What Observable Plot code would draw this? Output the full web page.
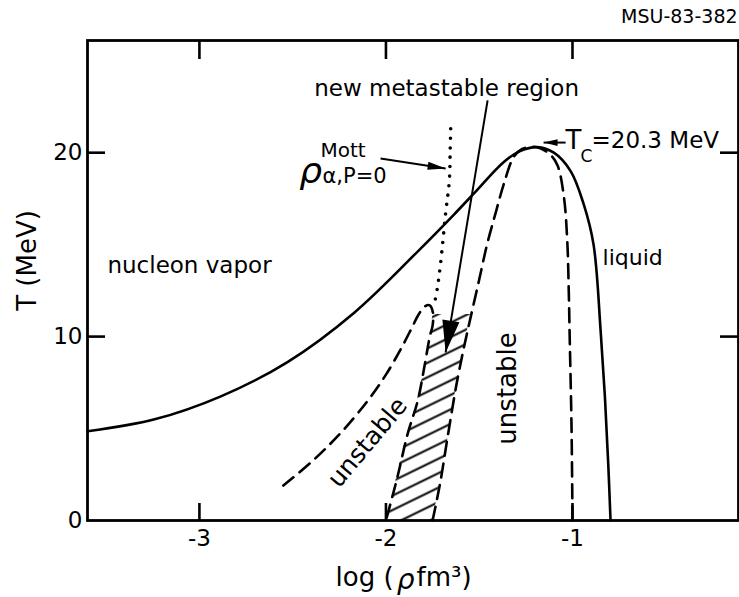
<!DOCTYPE html>
<html>
<head>
<meta charset="utf-8">
<script src="https://cdn.jsdelivr.net/npm/d3@7"></script>
<script src="https://cdn.jsdelivr.net/npm/@observablehq/plot@0.6"></script>
<style>
  body { margin: 0; background: #fff; }
  #chart svg text { font-family: "DejaVu Sans", sans-serif; }
</style>
</head>
<body>
<div id="chart"></div>
<script>
// Axis ticks
const xTicks = [-3, -2, -1];
const yTicks = [0, 10, 20];

// Liquid–gas coexistence curve (solid), log(rho fm^3) vs T (MeV)
const coexX = [-3.6, -3.24, -2.885, -2.53, -2.17, -1.813, -1.634, -1.527, -1.368, -1.278, -1.19, -1.10, -1.01, -0.94, -0.887, -0.849, -0.825, -0.808, -0.796];
const coexT = [4.85, 5.5, 6.75, 8.6, 11.3, 14.8, 16.65, 17.8, 19.5, 20.1, 20.3, 20.0, 19.0, 17.2, 15.0, 10.3, 6.5, 3.0, 0];

// Spinodal (dashed) enclosing the main unstable region
const spinX = [-1.75, -1.71, -1.67, -1.62, -1.58, -1.546, -1.50, -1.457, -1.41, -1.368, -1.316, -1.27, -1.19, -1.12, -1.08, -1.046, -1.028, -1.02, -1.015, -1.005, -1.0];
const spinT = [0, 2, 4.5, 7.5, 9.5, 11.05, 13.1, 15.05, 16.8, 18.3, 19.75, 20.2, 20.3, 19.9, 19.3, 17.6, 15.2, 12.5, 10, 5, 0];

// Low-density unstable loop (dashed)
const loopX = [-2.55, -2.40, -2.25, -2.10, -2.00, -1.92, -1.86, -1.825, -1.79, -1.765, -1.748, -1.75, -1.765, -1.795, -1.83, -1.884, -1.94, -2.0];
const loopT = [1.9, 3.18, 4.68, 6.48, 7.93, 9.33, 10.5, 11.2, 11.65, 11.7, 11.3, 10.6, 10.0, 8.3, 6.5, 4.7, 2.3, 0];

// Mott density of alpha particles at P = 0 (dotted)
const mottX = [-1.653, -1.656, -1.66, -1.68, -1.707, -1.725, -1.74];
const mottT = [21.3, 20.0, 18.5, 16.7, 14.0, 12.6, 11.8];

// New metastable region (hatched), bounded left and right at each T
const hatchT = [0, 2, 4, 6, 8, 10, 11.2];
const hatchLeft = [-2.0, -1.95, -1.905, -1.845, -1.80, -1.765, -1.748];
const hatchRight = [-1.75, -1.71, -1.675, -1.645, -1.608, -1.57, -1.543];

const pts = (xs, ts) => xs.map((x, i) => ({x, T: ts[i]}));
const coex = pts(coexX, coexT);
const spin = pts(spinX, spinT);
const loop = pts(loopX, loopT);
const mott = pts(mottX, mottT);
const hatch = hatchT.map((T, i) => ({T, l: hatchLeft[i], r: hatchRight[i]}));

const width = 739, height = 597;
const margin = {top: 40, right: 1, bottom: 77, left: 87};
const innerW = width - margin.left - margin.right;
const innerH = height - margin.top - margin.bottom;
const font = "DejaVu Sans";

// Slender filled arrowhead, tip at the origin, pointing up before rotation
const arrowHead = (half) => ({
  draw(ctx, size) {
    const s = Math.sqrt(size);
    ctx.moveTo(0, 0);
    ctx.lineTo(-half * s, s);
    ctx.lineTo(half * s, s);
    ctx.closePath();
  }
});

const xDomain = [-3.6, -0.11];
const yDomain = [0, 26.1];
const sx = d3.scaleLinear(xDomain, [margin.left, width - margin.right]);
const sy = d3.scaleLinear(yDomain, [height - margin.bottom, margin.top]);

// A shaft plus a filled head, oriented along the shaft on screen
function arrow(x1, y1, x2, y2, len, half) {
  const dx = sx(x2) - sx(x1), dy = sy(y2) - sy(y1);
  const angle = Math.atan2(dx, -dy) * 180 / Math.PI;
  return [
    Plot.link([0], {x1, y1, x2, y2, stroke: "black", strokeWidth: 2}),
    Plot.dot([0], {x: x2, y: y2, symbol: arrowHead(half), r: len / Math.sqrt(Math.PI), fill: "black", stroke: "none", rotate: angle})
  ];
}

const txt = (s, o) => Plot.text([s], {text: d => d, fontFamily: font, fill: "black", ...o});

const svg = Plot.plot({
  width, height,
  marginTop: margin.top, marginRight: margin.right, marginBottom: margin.bottom, marginLeft: margin.left,
  style: {fontFamily: font, background: "white", color: "black"},
  x: {domain: xDomain, label: null},
  y: {domain: yDomain, label: null},
  marks: [
    // hatched metastable band
    Plot.areaX(hatch, {y: "T", x1: "l", x2: "r", fill: "url(#hatch)", curve: "catmull-rom"}),
    // curves
    Plot.line(coex, {x: "x", y: "T", stroke: "black", strokeWidth: 2.6, curve: "catmull-rom"}),
    Plot.line(spin, {x: "x", y: "T", stroke: "black", strokeWidth: 2.6, strokeDasharray: "14,8", curve: "catmull-rom"}),
    Plot.line(loop, {x: "x", y: "T", stroke: "black", strokeWidth: 2.6, strokeDasharray: "13,8", curve: "catmull-rom"}),
    Plot.line(mott, {x: "x", y: "T", stroke: "black", strokeWidth: 3.6, strokeDasharray: "0,9.5", strokeLinecap: "round", curve: "catmull-rom"}),
    // frame and inward ticks
    Plot.frame({stroke: "black", strokeWidth: 2.8}),
    Plot.tickX(xTicks, {x: d => d, stroke: "black", strokeWidth: 2.6, insetTop: innerH - 17}),
    Plot.tickX(xTicks, {x: d => d, stroke: "black", strokeWidth: 2.6, insetBottom: innerH - 19}),
    Plot.tickY(yTicks.filter(d => d > 0), {y: d => d, stroke: "black", strokeWidth: 2.6, insetRight: innerW - 18}),
    Plot.tickY(yTicks.filter(d => d > 0), {y: d => d, stroke: "black", strokeWidth: 2.6, insetLeft: innerW - 18}),
    Plot.axisX(xTicks, {anchor: "bottom", tickSize: 0, tickPadding: 9, fontSize: 23, tickFormat: d => String(d), label: null}),
    Plot.axisY(yTicks, {anchor: "left", tickSize: 0, tickPadding: 5, fontSize: 23, tickFormat: d => String(d), label: null}),
    // axis titles
    txt("T (MeV)", {x: -3.922, y: 14.14, rotate: -90, fontSize: 26}),
    txt("log (", {x: -1.959, y: -3.1, textAnchor: "end", fontSize: 26}),
    txt("ρ", {x: -1.895, y: -3.25, fontSize: 28, fontStyle: "italic"}),
    txt("fm³)", {x: -1.836, y: -3.1, textAnchor: "start", fontSize: 26}),
    // annotations
    txt("MSU-83-382", {x: -0.115, y: 27.4, textAnchor: "end", fontSize: 19}),
    txt("new metastable region", {x: -1.675, y: 23.49, fontSize: 23}),
    txt("nucleon vapor", {x: -3.493, y: 13.87, textAnchor: "start", fontSize: 23}),
    txt("liquid", {x: -0.839, y: 14.25, textAnchor: "start", fontSize: 22}),
    txt("unstable", {x: -2.099, y: 4.24, rotate: -50, fontSize: 25}),
    txt("unstable", {x: -1.348, y: 7.18, rotate: -90, fontSize: 26}),
    txt("ρ", {x: -2.404, y: 19.0, fontSize: 36, fontStyle: "italic"}),
    txt("Mott", {x: -2.351, y: 20.12, textAnchor: "start", fontSize: 20}),
    txt("α,P=0", {x: -2.34, y: 18.71, textAnchor: "start", fontSize: 21}),
    txt("T", {x: -1.037, y: 20.66, textAnchor: "start", fontSize: 26}),
    txt("C", {x: -0.957, y: 19.79, textAnchor: "start", fontSize: 17}),
    txt("=20.3 MeV", {x: -0.898, y: 20.66, textAnchor: "start", fontSize: 23}),
    // arrows
    ...arrow(-1.455, 22.84, -1.680, 9.14, 32, 0.27),
    ...arrow(-2.029, 19.68, -1.680, 19.14, 18, 0.22),
    ...arrow(-1.037, 20.55, -1.155, 20.55, 14, 0.24)
  ]
});

// Hatching used to fill the metastable band
const defs = d3.select(svg).insert("defs", ":first-child");
const pat = defs.append("pattern")
  .attr("id", "hatch")
  .attr("patternUnits", "userSpaceOnUse")
  .attr("width", 12).attr("height", 13)
  .attr("patternTransform", "rotate(-26)");
pat.append("line")
  .attr("x1", 0).attr("y1", 6.5).attr("x2", 12).attr("y2", 6.5)
  .attr("stroke", "black").attr("stroke-width", 2);

document.getElementById("chart").append(svg);
</script>
</body>
</html>
